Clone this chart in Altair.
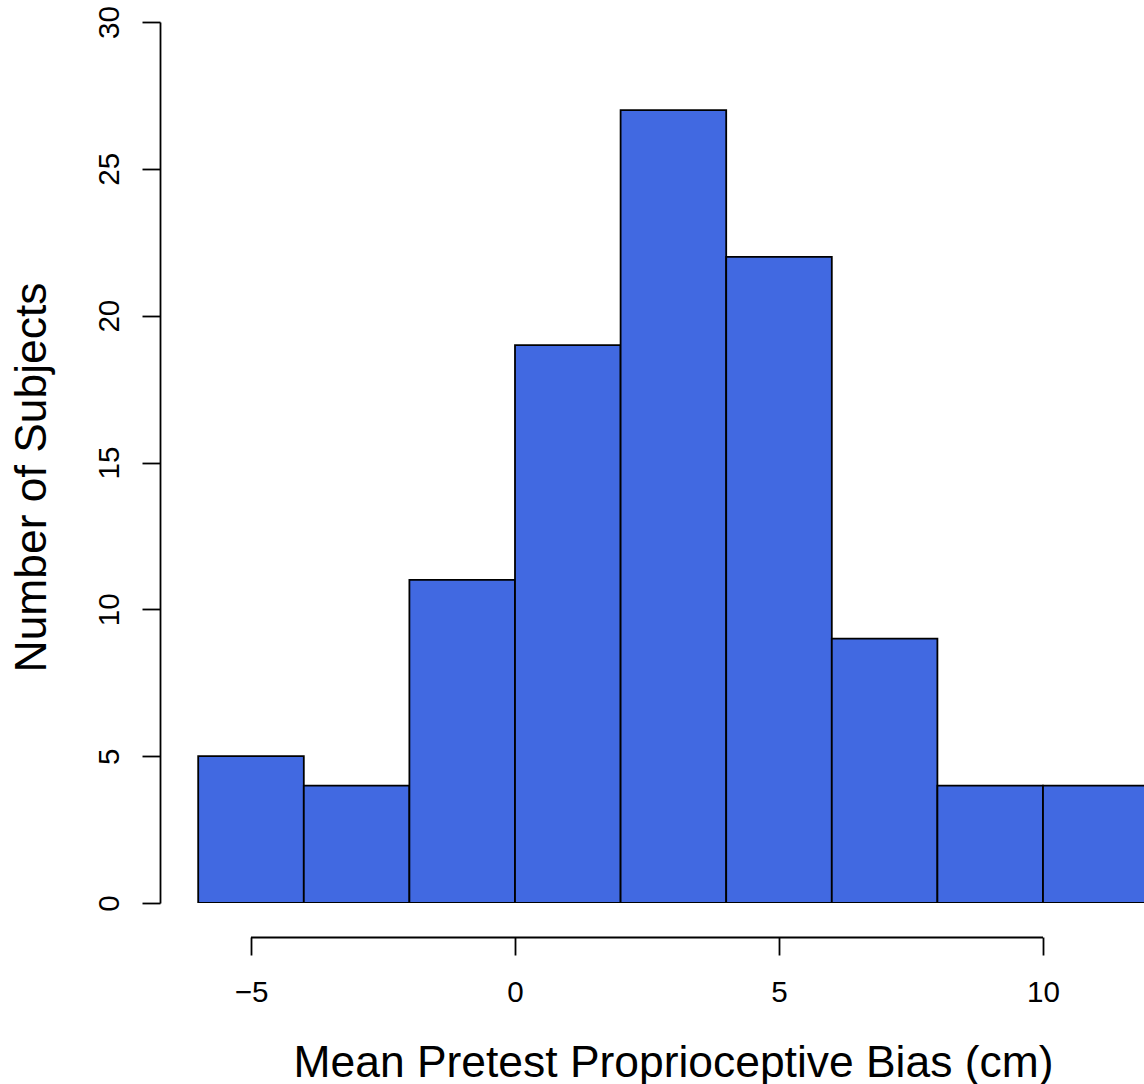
import altair as alt
import pandas as pd

bin_starts = [-6, -4, -2, 0, 2, 4, 6, 8, 10]
bin_width = 2
counts = [5, 4, 11, 19, 27, 22, 9, 4, 4]
x_ticks = [-5, 0, 5, 10]
y_ticks = [0, 5, 10, 15, 20, 25, 30]

df = pd.DataFrame({
    "start": bin_starts,
    "end": [s + bin_width for s in bin_starts],
    "count": counts,
})

FONT = "Liberation Sans"
W, H = 984, 881
xscale = alt.Scale(domain=[-6.7235, 11.9129], nice=False, zero=False)
yscale = alt.Scale(domain=[0, 30], nice=False)

bars = alt.Chart(df).mark_rect(
    fill="#4169E1", stroke="black", strokeWidth=1.8, clip=True
).encode(
    x=alt.X("start:Q", scale=xscale,
            axis=alt.Axis(values=x_ticks, domain=False, tickSize=18, tickWidth=1.8,
                          tickColor="black", offset=34, grid=False,
                          labelFontSize=29.6, labelFont=FONT, labelColor="black",
                          labelBaseline="alphabetic", labelPadding=46, labelFlush=False,
                          title="Mean Pretest Proprioceptive Bias (cm)",
                          titleFontSize=44.4, titleFont=FONT, titleFontWeight="normal",
                          titleColor="black", titleX=513, titleY=139,
                          titleAlign="center", titleBaseline="alphabetic", titleAnchor="start")),
    x2="end:Q",
    y=alt.Y("count:Q", scale=yscale,
            axis=alt.Axis(values=y_ticks, domain=True, domainColor="black", domainWidth=1.8,
                          tickSize=18, tickWidth=1.8, tickColor="black", grid=False,
                          labelAngle=-90, labelAlign="center", labelBaseline="alphabetic",
                          labelPadding=24, labelFontSize=29.6, labelFont=FONT,
                          labelColor="black", labelFlush=False,
                          title="Number of Subjects", titleAngle=-90,
                          titleFontSize=44.4, titleFont=FONT, titleFontWeight="normal",
                          titleColor="black", titleX=-115, titleY=455,
                          titleAlign="center", titleBaseline="alphabetic", titleAnchor="start")),
    y2=alt.datum(0),
)

axis_df = pd.DataFrame({"a": [x_ticks[0]], "b": [x_ticks[-1]]})
xline = alt.Chart(axis_df).mark_rule(color="black", strokeWidth=1.8).encode(
    x=alt.X("a:Q", scale=xscale),
    x2="b:Q",
    y=alt.value(H + 34.5),
)

chart = alt.layer(bars, xline).properties(
    width=W, height=H,
    autosize=alt.AutoSizeParams(type="none"),
    padding={"left": 160, "top": 22, "right": 0, "bottom": 181},
    view=alt.ViewBackground(stroke="transparent", strokeWidth=0),
).configure_view(stroke="transparent", strokeWidth=0).configure_axis(
    grid=False
).configure(background="white")

chart.save("out.html", embed_options={"renderer": "svg", "actions": False})
